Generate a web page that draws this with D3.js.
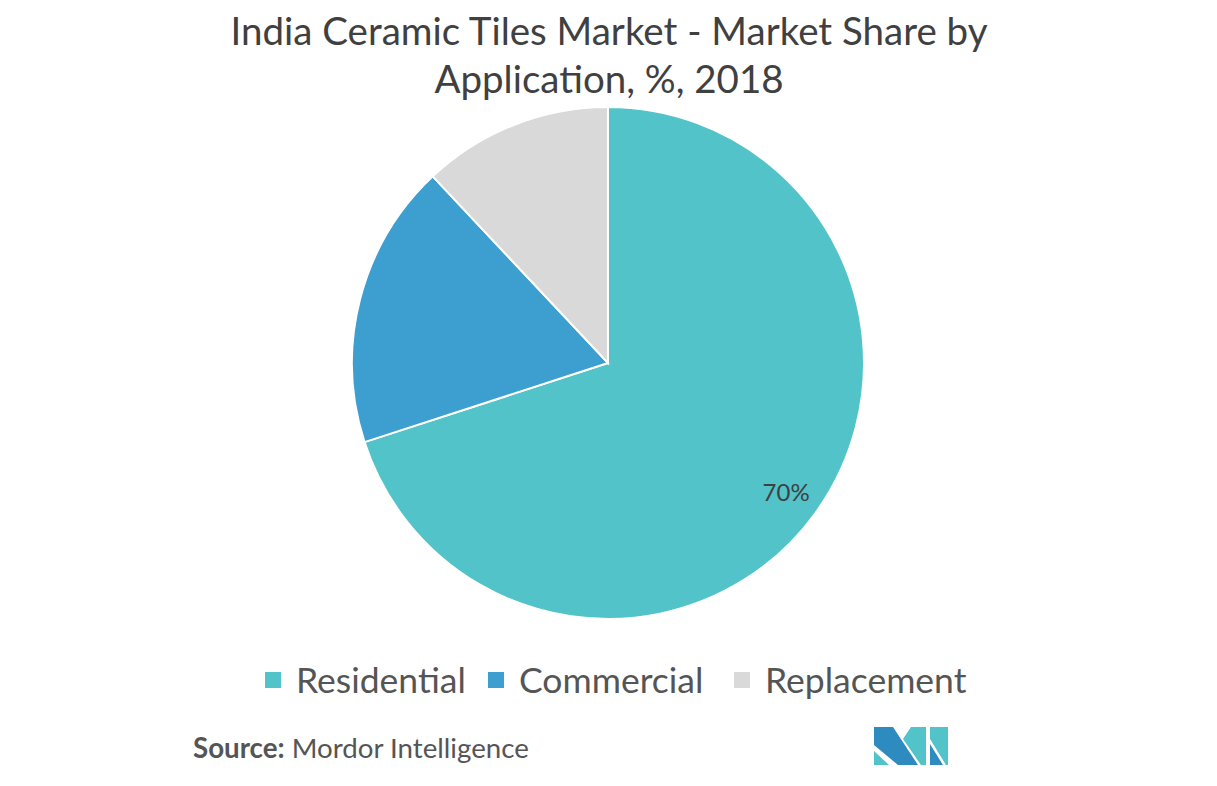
<!DOCTYPE html>
<html><head><meta charset="utf-8">
<script src="https://cdn.jsdelivr.net/npm/d3@7"></script>
<style>body{margin:0;background:#fff}svg{display:block}</style>
</head><body>
<script>
const categories = ["Residential", "Commercial", "Replacement"];
const values = [70, 18, 12];
const colors = ["#52C3C9", "#3D9ED0", "#D9D9D9"];
const titleLines = ["India Ceramic Tiles Market - Market Share by", "Application, %, 2018"];
const labelShown = [true, false, false];

const W = 1217, H = 786;
const svg = d3.select("body").append("svg").attr("width", W).attr("height", H);
const font = "Lato, 'Open Sans', sans-serif";

svg.selectAll("text.title").data(titleLines).enter().append("text")
  .attr("x", 609).attr("y", (d, i) => 45 + i * 48)
  .attr("text-anchor", "middle").attr("font-family", font).attr("font-size", 38.5)
  .attr("fill", "#404040").text(d => d);

const cx = 608, cy = 363, R = 256;
const pie = d3.pie().sort(null).value(d => d.v);
const arcs = pie(categories.map((c, i) => ({c, v: values[i], i})));
const arc = d3.arc().innerRadius(0).outerRadius(R);
const g = svg.append("g").attr("transform", `translate(${cx},${cy})`);
g.selectAll("path").data(arcs).enter().append("path")
  .attr("d", arc).attr("fill", d => colors[d.data.i])
  .attr("stroke", "#fff").attr("stroke-width", 2);

const labelArc = d3.arc().innerRadius(R * 0.86).outerRadius(R * 0.86);
g.selectAll("text.lbl").data(arcs.filter(d => labelShown[d.data.i])).enter().append("text")
  .attr("transform", d => `translate(${labelArc.centroid(d)})`)
  .attr("text-anchor", "middle").attr("dy", "0.35em")
  .attr("font-family", font).attr("font-size", 24).attr("fill", "#404040")
  .text(d => d.data.v + "%");

// legend
const legendX = [265, 488, 734];
const lg = svg.append("g");
categories.forEach((c, i) => {
  lg.append("rect").attr("x", legendX[i]).attr("y", 672).attr("width", 16).attr("height", 16).attr("fill", colors[i]);
  lg.append("text").attr("x", legendX[i] + 31).attr("y", 693)
    .attr("font-family", font).attr("font-size", 35.5).attr("fill", "#555").text(c);
});

// source
const src = svg.append("text").attr("x", 193).attr("y", 758).attr("font-family", font).attr("font-size", 27.7).attr("fill", "#555");
src.append("tspan").attr("font-weight", "bold").text("Source:");
src.append("tspan").text(" Mordor Intelligence");

// logo
const logo = svg.append("g").attr("transform", "translate(874,727)");
const polys = [
  {p: [[0,0],[19,0],[44,38],[24,38],[0,18]], c: "#2E8BC0"},
  {p: [[0,24],[0,38],[15,38]], c: "#52C3C9"},
  {p: [[37,0],[52,0],[52,38],[47,38],[29,12]], c: "#52C3C9"},
  {p: [[56,0],[74,0],[74,38],[72,38],[56,12]], c: "#52C3C9"},
  {p: [[56,17],[69,38],[56,38]], c: "#2E8BC0"}
];
logo.selectAll("polygon").data(polys).enter().append("polygon")
  .attr("points", d => d.p.map(q => q.join(",")).join(" ")).attr("fill", d => d.c);
</script>
</body></html>
